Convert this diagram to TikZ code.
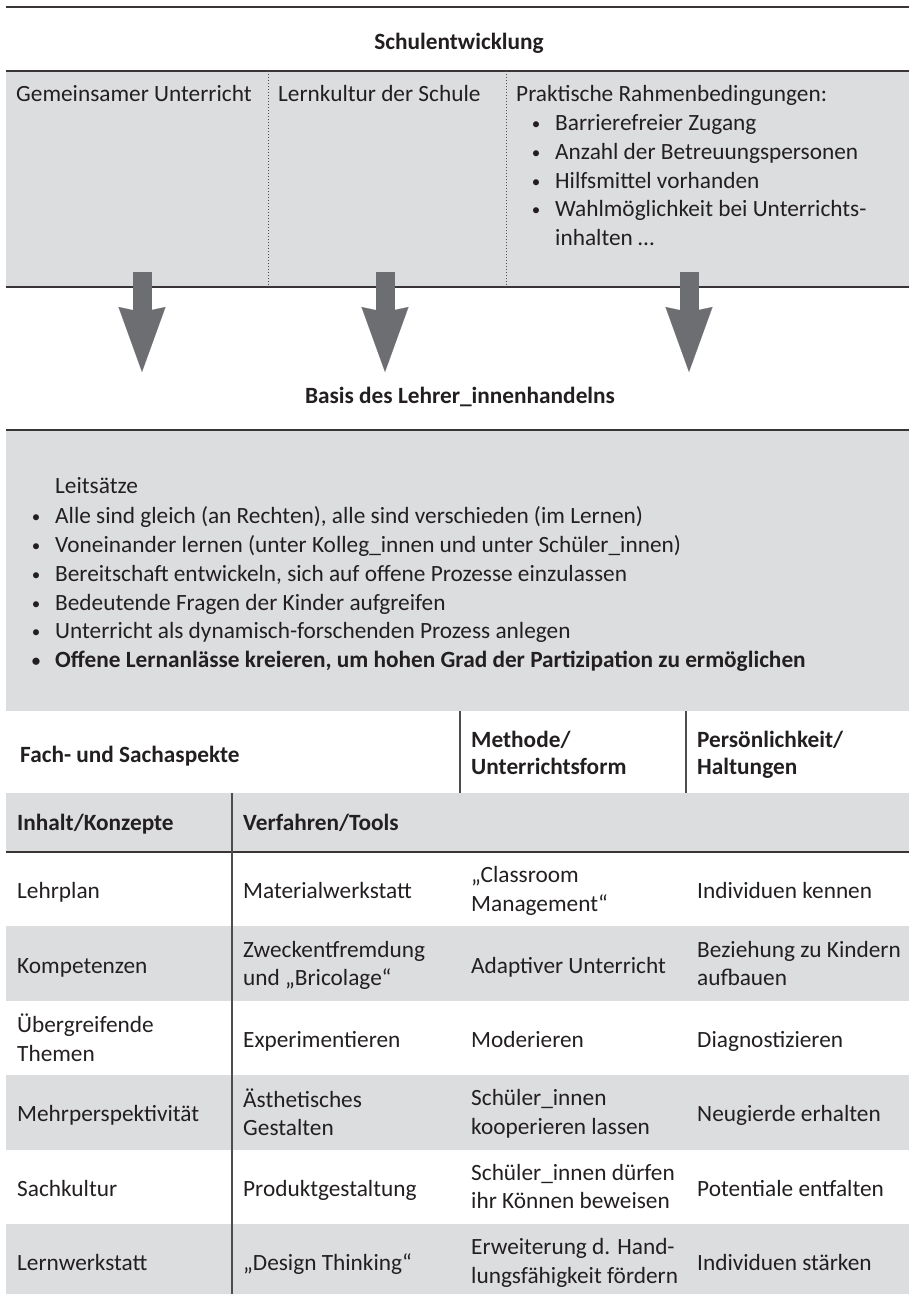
\documentclass[tikz,border=0pt]{standalone}
\usepackage{fontspec}
\setmainfont{Carlito}
\usetikzlibrary{arrows.meta,positioning}
\definecolor{boxgray}{HTML}{DCDDDF}
\definecolor{arrowgray}{HTML}{6D6E71}
\definecolor{ink}{HTML}{231F20}
\tikzset{txt/.style={anchor=west,inner sep=0pt,align=left,text=ink,
   execute at begin node=\strut,execute at end node=\strut,
   font=\fontsize{23.3}{28.3}\selectfont},
 head/.style={txt,font=\fontsize{23.3}{27.3}\selectfont\bfseries},
 dot/.style={txt,anchor=center,font=\fontsize{17}{28.3}\selectfont},
 rule/.style={draw=ink!90,line width=2.4pt},
 thinrule/.style={draw=ink!80,line width=1.2pt},
 dotline/.style={draw=ink!80,line width=1pt,dash pattern=on 1pt off 2pt},
 bigarrow/.style={draw=arrowgray,line width=19pt,
   -{Stealth[length=65pt,width=47pt,inset=5pt,line width=0.1pt]}},
 }

\begin{document}
\begin{tikzpicture}[x=1pt,y=-1pt]
        \useasboundingbox (0,0) rectangle (909,1294);
        % Schulentwicklung
        \draw[rule] (6,7) -- (909,7);
        \node[head,anchor=center] (schule) at (459,44) {Schulentwicklung};
        \fill[boxgray] (6,71) rectangle (909,287);
        \draw[rule] (6,71) -- (909,71);
        \draw[dotline] (268,71) -- (268,287);
        \draw[dotline] (506,71) -- (506,287);
        \node[txt] (gemu) at (16,96) {Gemeinsamer Unterricht};
        \node[txt] (lernk) at (278,96) {Lernkultur der Schule};
        \node[txt] (prakt) at (516,96) {Praktische Rahmenbedingungen:};
        \foreach \t[count=\i] in {Barrierefreier Zugang, Anzahl der Betreuungspersonen,
            Hilfsmittel vorhanden, Wahlmöglichkeit bei Unterrichts-} {
            \node[dot] (pdot\i) at (536, 95+28.8*\i) {•};
            \node[txt] (pitem\i) at (555, 96+28.8*\i) {\t};
        }
        \node[txt] (pitem5) at (555,240) {inhalten …};
        \draw[rule] (6,287) -- (909,287);
        % Pfeile
        \foreach \x[count=\i] in {142, 385, 689} {
            \coordinate (pfs\i) at (\x,272);
            \coordinate (pfe\i) at (\x,372);
            \draw[bigarrow] (pfs\i) -- (pfe\i);
        }
        % Basis
        \node[head,anchor=center] (basis) at (460,398) {Basis des Lehrer\_innenhandelns};
        \fill[boxgray] (6,430) rectangle (909,711);
        \draw[rule] (6,430) -- (909,430);
        \node[txt] (leit) at (55,488) {Leitsätze};
        \foreach \t[count=\i] in {{Alle sind gleich (an Rechten), alle sind verschieden (im Lernen)},
            {Voneinander lernen (unter Kolleg\_innen und unter Schüler\_innen)},
            {Bereitschaft entwickeln, sich auf offene Prozesse einzulassen},
            {Bedeutende Fragen der Kinder aufgreifen},
            {Unterricht als dynamisch-forschenden Prozess anlegen}} {
            \node[dot] (ldot\i) at (36, 517+28.8*\i-28.8) {•};
            \node[txt] (litem\i) at (55, 518+28.8*\i-28.8) {\t};
        }
        \node[dot,font=\fontsize{17}{28.3}\selectfont\bfseries] (ldot6) at (36,661) {•};
        \node[head] (litem6) at (55,662) {Offene Lernanlässe kreieren, um hohen Grad der Partizipation zu ermöglichen};
        % Tabelle
        \draw[thinrule] (460,711) -- (460,793);
        \draw[thinrule] (686,711) -- (686,793);
        \node[head] (hfach) at (20,757) {Fach- und Sachaspekte};
        \node[head] (hmeth) at (471,757) {Methode/\\Unterrichtsform};
        \node[head] (hpers) at (697,757) {Persönlichkeit/\\Haltungen};
        \fill[boxgray] (6,793) rectangle (909,852);
        \node[head] (hinh) at (17,825) {Inhalt/Konzepte};
        \node[head] (hverf) at (243,825) {Verfahren/Tools};
        \fill[boxgray] (6,926) rectangle (909,1001);
        \fill[boxgray] (6,1075) rectangle (909,1150);
        \fill[boxgray] (6,1224) rectangle (909,1294);
        \draw[rule,line width=1.5pt] (6,852) -- (909,852);
        \draw[thinrule] (232,793) -- (232,1294);
        \foreach \a/\b/\c/\d[count=\r] in {Lehrplan/Materialwerkstatt/{„Classroom\\Management“}/Individuen kennen,
            Kompetenzen/{Zweckentfremdung\\und „Bricolage“}/Adaptiver Unterricht/{Beziehung zu Kindern\\aufbauen},
            {Übergreifende\\Themen}/Experimentieren/Moderieren/Diagnostizieren,
            Mehrperspektivität/{Ästhetisches\\Gestalten}/{Schüler\_innen\\kooperieren lassen}/Neugierde erhalten,
            Sachkultur/Produktgestaltung/{Schüler\_innen dürfen\\ihr Können beweisen}/Potentiale entfalten,
            Lernwerkstatt/„Design Thinking“/{Erweiterung d. Hand-\\lungsfähigkeit fördern}/Individuen stärken} {
            \node[txt] (inh\r) at (17, 893+74.4*\r-74.4) {\a};
            \node[txt] (verf\r) at (243, 893+74.4*\r-74.4) {\b};
            \node[txt] (meth\r) at (471, 893+74.4*\r-74.4) {\c};
            \node[txt] (pers\r) at (697, 893+74.4*\r-74.4) {\d};
        }
    \end{tikzpicture}
\end{document}
